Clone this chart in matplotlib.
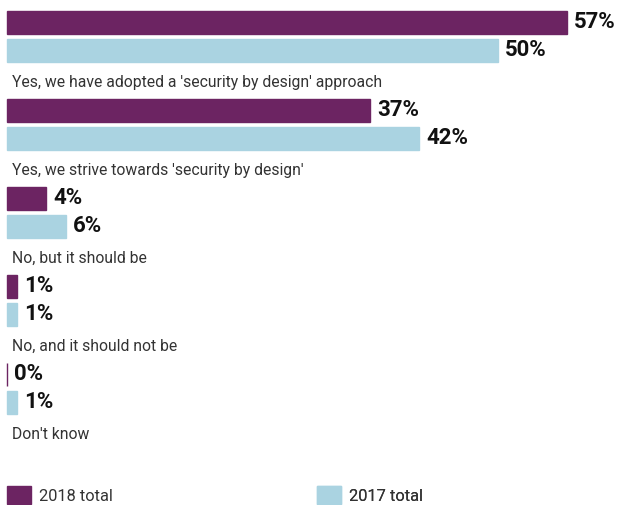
import matplotlib

matplotlib.use("Agg")
import matplotlib.pyplot as plt  # noqa: E402
from matplotlib.patches import Patch  # noqa: E402

categories = [
    "Yes, we have adopted a 'security by design' approach",
    "Yes, we strive towards 'security by design'",
    "No, but it should be",
    "No, and it should not be",
    "Don't know",
]
total_2018 = [57, 37, 4, 1, 0]
total_2017 = [50, 42, 6, 1, 1]
series_labels = ["2018 total", "2017 total"]

PURPLE = "#6c2462"
BLUE = "#aad3e1"
W, H = 617, 505
PX_PER_PCT = 9.82   # horizontal scale, pixels per percentage point
X0 = 7              # left edge of the bars, px
GROUP = 88          # vertical pitch between questions, px

plt.rcParams["font.family"] = ["Roboto", "DejaVu Sans"]

fig = plt.figure(figsize=(W / 100, H / 100), dpi=100)
ax = fig.add_axes([0, 0, 1, 1])
ax.set_xlim(-X0 / PX_PER_PCT, (W - X0) / PX_PER_PCT)
ax.set_ylim(H, 0)
ax.axis("off")

for i, (cat, a, b) in enumerate(zip(categories, total_2018, total_2017)):
    y18 = 22.5 + GROUP * i
    y17 = y18 + 28
    for y, v, c in ((y18, a, PURPLE), (y17, b, BLUE)):
        ax.barh(y, v, height=23, left=0, color=c, edgecolor=c, linewidth=1)
        ax.annotate(f"{v}%", (v, y), xytext=(5, 0), textcoords="offset points",
                    va="center", ha="left", fontsize=16, fontweight="bold",
                    color="#111111")
    ax.text(5 / PX_PER_PCT, y17 + 32, cat, va="center", ha="left",
            fontsize=11.3, color="#333333")

# legend: one square swatch per series
for lab, c, xpos in zip(series_labels, (PURPLE, BLUE), (X0, 317)):
    leg = ax.legend(handles=[Patch(color=c, label=lab)], loc="center left",
                    bbox_to_anchor=(xpos / W, 1 - 495 / H), borderpad=0,
                    borderaxespad=0, frameon=False,
                    handlelength=1.45, handleheight=1.25, handletextpad=0.5,
                    labelcolor="#333333", prop={"size": 11.8})
    ax.add_artist(leg)

fig.savefig("out.png", dpi=100)
